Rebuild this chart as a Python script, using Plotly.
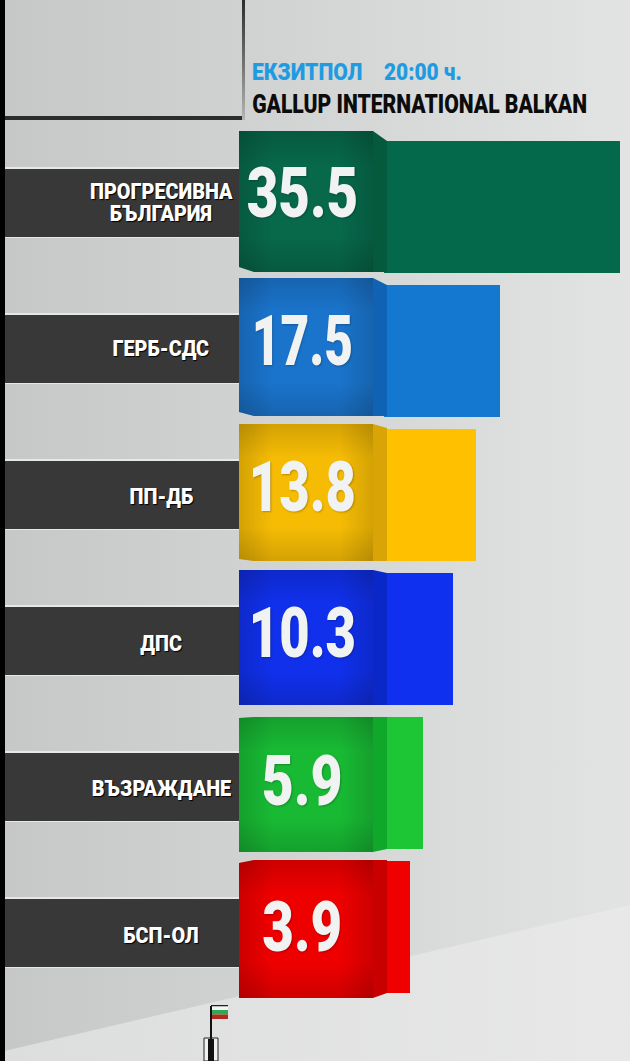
import json
import plotly.graph_objects as go

# chart data
parties = ["ПРОГРЕСИВНА БЪЛГАРИЯ", "ГЕРБ-СДС", "ПП-ДБ", "ДПС", "ВЪЗРАЖДАНЕ", "БСП-ОЛ"]
label_lines = [["ПРОГРЕСИВНА", "БЪЛГАРИЯ"], ["ГЕРБ-СДС"], ["ПП-ДБ"], ["ДПС"], ["ВЪЗРАЖДАНЕ"], ["БСП-ОЛ"]]
values = [35.5, 17.5, 13.8, 10.3, 5.9, 3.9]
bar_colors = ["#04694b", "#1478d0", "#ffc000", "#1030f0", "#1cc635", "#f00000"]
face_colors = ["#07684a", "#1a74cc", "#f6bc04", "#1030ec", "#18ba34", "#ee0000"]
side_colors = ["#05593d", "#0f62b4", "#d9a406", "#0a28c8", "#10a82a", "#c80000"]

W, H = 630, 1061
ZERO_PX, PX_PER_UNIT = 384.1, 6.646
FIRST_ROW_PX, ROW_PX, BAR_PX = 206.5, 144.0, 132.0

# cube outline per row: top-left, top, side top, side bottom, bottom, bottom-left
cube_rows = [
    (131, 131, 141, 272, 272, 267),
    (278, 278, 285, 416, 416, 412),
    (424, 424, 428, 561, 561, 559),
    (570, 570, 573, 705, 705, 705),
    (718, 717, 717, 849, 852, 852),
    (863, 860, 860, 993, 998, 998),
]
band_tops = [169, 315, 461, 607, 753, 899]
value_y = [193, 341, 487, 633, 781, 927]
value_squeeze = [0.78, 0.71, 0.75, 0.75, 0.79, 0.78]
label_y = [[191, 213], [348], [496], [643], [788], [935]]
VIGNETTE = [[0, "rgba(0,0,0,0.14)"], [0.25, "rgba(0,0,0,0)"], [0.75, "rgba(0,0,0,0)"], [1, "rgba(0,0,0,0.14)"]]


def poly(xs, ys, xa, ya, color=None, gradient=None):
    trace = go.Scatter(x=xs, y=ys, mode="lines", fill="toself", line=dict(width=0),
                       hoverinfo="skip", showlegend=False, xaxis=xa, yaxis=ya)
    if gradient:
        trace.fillgradient = gradient
    else:
        trace.fillcolor = color
    return trace


fig = go.Figure()

# background, on the pixel axes at the bottom of the stack
fig.add_trace(poly([0, W, W, 0], [0, 0, H, H], "x", "y", gradient=dict(
    type="horizontal", colorscale=[[0, "#c6c8c8"], [0.35, "#cfd1d0"], [1, "#e2e3e3"]])))
fig.add_trace(poly([0, W, W, 0], [1052, 905, H, H], "x", "y", gradient=dict(
    type="horizontal", colorscale=[[0, "#dcdedd"], [1, "#e7e8e7"]])))
fig.add_trace(poly([0, 5, 5, 0], [0, 0, H, H], "x", "y", color="#000000"))

# frame in the top left corner
fig.add_trace(poly([5, 244, 244, 5], [116, 116, 120, 120], "x", "y", color="#2c2c2c"))
fig.add_trace(poly([242, 245, 245, 242], [0, 0, 120, 120], "x", "y", gradient=dict(
    type="vertical", colorscale=[[0, "#b4b6b6"], [0.5, "#6e6e6e"], [1, "#2c2c2c"]])))

# dark label bands
for top in band_tops:
    fig.add_trace(poly([5, 240, 240, 5], [top - 2, top - 2, top + 69, top + 69], "x", "y", color="#e6e8e7"))
    fig.add_trace(poly([5, 240, 240, 5], [top, top, top + 68, top + 68], "x", "y", color="#383838"))

# value bars
fig.add_trace(go.Bar(
    x=values, y=parties, orientation="h", width=BAR_PX / ROW_PX,
    marker=dict(color=bar_colors, line=dict(width=0)),
    hoverinfo="skip", showlegend=False, xaxis="x2", yaxis="y2",
))

# cube faces over the bar starts, darkened towards the edges
for i, (tl, t, st, sb, b, bl) in enumerate(cube_rows):
    face_x = [239, 254, 373, 373, 254, 239]
    face_y = [tl, t, t, b, b, bl]
    fig.add_trace(poly([373, 387, 387, 373], [t, st, sb, b], "x3", "y3", color=side_colors[i]))
    fig.add_trace(poly(face_x, face_y, "x3", "y3", color=face_colors[i]))
    fig.add_trace(poly(face_x, face_y, "x3", "y3", gradient=dict(type="horizontal", colorscale=VIGNETTE)))
    fig.add_trace(poly(face_x, face_y, "x3", "y3", gradient=dict(type="vertical", colorscale=VIGNETTE)))

annotations = []
text_widths = []  # horizontal squeeze per text, the original face is a condensed one


def add_text(x, y, text, size, color, squeeze=1.0, anchor="center", shadow="none"):
    annotations.append(dict(
        x=x, y=y, xref="x", yref="y", text=text, showarrow=False, xanchor=anchor, yanchor="middle",
        font=dict(family="Roboto", size=size, color=color, weight=900, shadow=shadow),
    ))
    text_widths.append([squeeze, anchor])


add_text(250, 72, "ЕКЗИТПОЛ", 24, "#1f9be2", squeeze=0.88, anchor="left")
add_text(382, 72, "20:00 ч.", 24, "#1f9be2", squeeze=0.87, anchor="left")
add_text(250, 104, "GALLUP INTERNATIONAL BALKAN", 25, "#0c0c0c", squeeze=0.845, anchor="left")

for i, value in enumerate(values):
    add_text(302, value_y[i], f"{value:.1f}", 70, "#f1f3f3", squeeze=value_squeeze[i],
             shadow="1px 1px 2px rgba(0,0,0,0.25)")
    for line, y in zip(label_lines[i], label_y[i]):
        add_text(161, y, line, 22, "#ffffff", squeeze=0.9, shadow="1px 1px 1px #000000")

# small flag at the bottom
shapes = [
    dict(type="rect", x0=204, x1=218, y0=1038, y1=1061, fillcolor="#f0f0f0", line=dict(color="#222222", width=1)),
    dict(type="rect", x0=208, x1=214, y0=1039, y1=1061, fillcolor="#111111", line=dict(width=0)),
    dict(type="line", x0=211, x1=211, y0=1006, y1=1039, line=dict(color="#111111", width=2)),
    dict(type="rect", x0=211, x1=228, y0=1005, y1=1006.5, fillcolor="#222222", line=dict(width=0)),
    dict(type="rect", x0=212, x1=228, y0=1006.5, y1=1010, fillcolor="#f4f4f4", line=dict(width=0)),
    dict(type="rect", x0=212, x1=228, y0=1010, y1=1014.5, fillcolor="#2eaa52", line=dict(width=0)),
    dict(type="rect", x0=212, x1=228, y0=1014.5, y1=1019, fillcolor="#b02a20", line=dict(width=0)),
]
for s in shapes:
    s.update(xref="x", yref="y", layer="above")

hidden = dict(visible=False, fixedrange=True)
fig.update_layout(
    width=W, height=H, autosize=False,
    margin=dict(l=0, r=0, t=0, b=0, pad=0),
    paper_bgcolor="#d4d6d5", plot_bgcolor="rgba(0,0,0,0)",
    showlegend=False, annotations=annotations, shapes=shapes, bargap=0,
    xaxis=dict(range=[0, W], domain=[0, 1], **hidden),
    yaxis=dict(range=[H, 0], domain=[0, 1], **hidden),
    xaxis2=dict(range=[-ZERO_PX / PX_PER_UNIT, (W - ZERO_PX) / PX_PER_UNIT], overlaying="x", **hidden),
    yaxis2=dict(type="category", categoryorder="array", categoryarray=parties, overlaying="y",
                range=[(H - FIRST_ROW_PX) / ROW_PX, -FIRST_ROW_PX / ROW_PX], **hidden),
    xaxis3=dict(range=[0, W], overlaying="x", **hidden),
    yaxis3=dict(range=[H, 0], overlaying="y", **hidden),
)

# no page margin, and squeeze the text sideways around its anchor
post_script = """
document.body.style.margin = '0';
document.body.style.overflow = 'hidden';
var widths = %s;
document.querySelectorAll('g.annotation').forEach(function (g) {
    var w = widths[+g.getAttribute('data-index')];
    var t = g.querySelector('text.annotation-text');
    var box = t.getBBox();
    var cx = w[1] === 'left' ? box.x : box.x + box.width / 2;
    t.setAttribute('transform', 'translate(' + cx + ' 0) scale(' + w[0] + ' 1) translate(' + (-cx) + ' 0)');
});
""" % json.dumps(text_widths)

fig.write_html("out.html", config=dict(displayModeBar=False), post_script=post_script)
